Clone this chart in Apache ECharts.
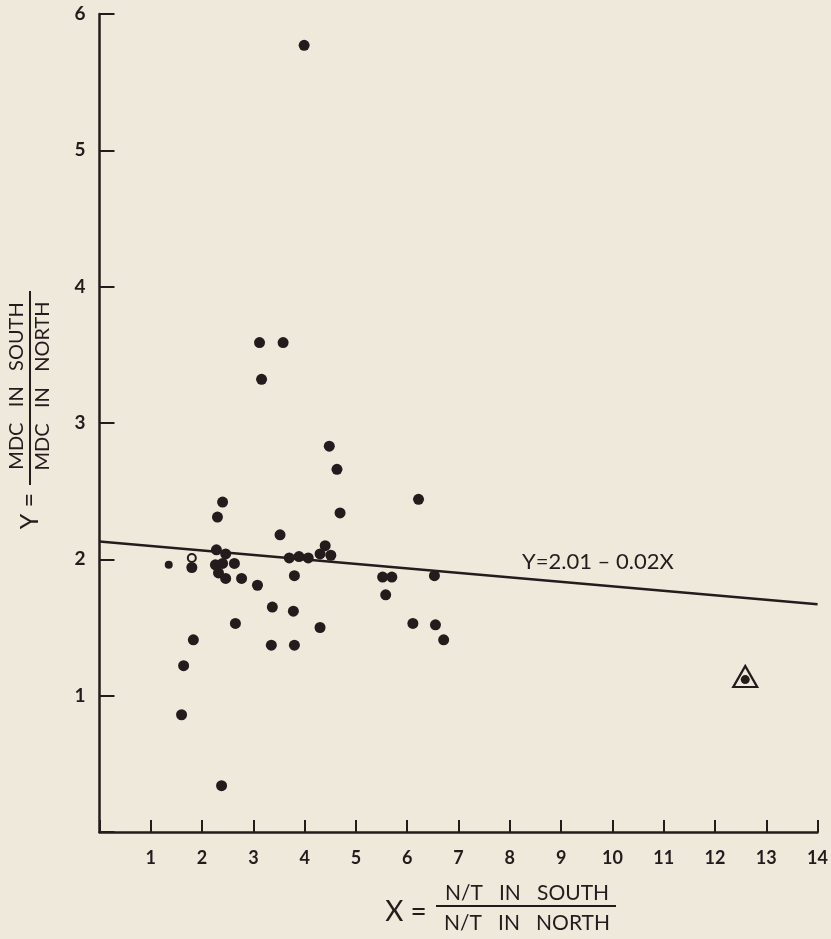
<!DOCTYPE html>
<html>
<head>
<meta charset="utf-8">
<script src="https://cdn.jsdelivr.net/npm/echarts@6/dist/echarts.min.js"></script>
<style>
html,body{margin:0;padding:0;background:#efe9dc;}
#c{width:831px;height:939px;}
</style>
</head>
<body>
<div id="c"></div>
<script>
// Data
const dotsX = [3.99,3.12,3.58,3.16,4.48,4.63,4.69,6.22,2.40,2.30,3.52,2.28,2.46,3.70,3.89,4.07,4.40,4.30,4.51,1.80,2.26,2.40,2.63,2.32,2.46,2.77,3.08,3.80,3.37,3.78,2.65,1.83,3.35,3.80,5.52,5.70,5.58,6.53,4.30,6.11,6.55,6.71,1.64,1.60,2.38];
const dotsY = [5.77,3.59,3.59,3.32,2.83,2.66,2.34,2.44,2.42,2.31,2.18,2.07,2.04,2.01,2.02,2.01,2.10,2.04,2.03,1.94,1.96,1.97,1.97,1.90,1.86,1.86,1.81,1.88,1.65,1.62,1.53,1.41,1.37,1.37,1.87,1.87,1.74,1.88,1.50,1.53,1.52,1.41,1.22,0.86,0.34];
const smallDotX = [1.35];
const smallDotY = [1.96];
const openDotX = [1.80];
const openDotY = [2.01];
const specialX = [12.59];
const specialY = [1.14];
const fitLineX = [0, 14];
const fitLineY = [2.13, 1.67];
const xTicks = [1,2,3,4,5,6,7,8,9,10,11,12,13,14];
const yTicks = [1,2,3,4,5,6];
const fitLabel = 'Y=2.01 – 0.02X';

const ink = '#241b1d';
const FONT = 'Lato, "Open Sans", sans-serif';
const pairs = (xs, ys) => xs.map((x, i) => [x, ys[i]]);

const chart = echarts.init(document.getElementById('c'), null, {renderer: 'canvas'});
chart.setOption({
  backgroundColor: '#efe9dc',
  animation: false,
  grid: {left: 99.5, right: 10.5, top: 14, bottom: 107, containLabel: false},
  xAxis: {
    type: 'value', min: 0, max: 14, interval: 1,
    splitLine: {show: false},
    axisLine: {show: true, onZero: false, lineStyle: {color: ink, width: 2.5}},
    axisTick: {show: true, inside: true, length: 12, lineStyle: {color: ink, width: 2}},
    axisLabel: {
      color: ink, fontSize: 18, fontWeight: 'bold', fontFamily: FONT, margin: 17,
      formatter: v => xTicks.indexOf(v) >= 0 ? String(v) : ''
    }
  },
  yAxis: {
    type: 'value', min: 0, max: 6, interval: 1,
    splitLine: {show: false},
    axisLine: {show: true, onZero: false, lineStyle: {color: ink, width: 2.5}},
    axisTick: {show: true, inside: true, length: 15, lineStyle: {color: ink, width: 2}},
    axisLabel: {
      color: ink, fontSize: 19, fontWeight: 'bold', fontFamily: FONT, margin: 14,
      formatter: v => yTicks.indexOf(v) >= 0 ? String(v) : ''
    }
  },
  series: [
    {
      type: 'line', data: pairs(fitLineX, fitLineY), symbol: 'none',
      lineStyle: {color: ink, width: 2.5}, z: 2
    },
    {
      type: 'scatter', data: pairs(dotsX, dotsY), symbolSize: 11,
      itemStyle: {color: ink, opacity: 1}, z: 3
    },
    {
      type: 'scatter', data: pairs(smallDotX, smallDotY), symbolSize: 8,
      itemStyle: {color: ink, opacity: 1}, z: 3
    },
    {
      type: 'scatter', data: pairs(openDotX, openDotY), symbolSize: 8,
      itemStyle: {color: '#efe9dc', borderColor: ink, borderWidth: 2, opacity: 1}, z: 4
    },
    {
      type: 'scatter', data: pairs(specialX, specialY), symbol: 'triangle', symbolSize: [24, 21],
      itemStyle: {color: 'rgba(0,0,0,0)', borderColor: ink, borderWidth: 2.2, opacity: 1}, z: 3
    },
    {
      type: 'scatter', data: pairs(specialX, specialY), symbolSize: 9, symbolOffset: [0, 3],
      itemStyle: {color: ink, opacity: 1}, z: 4
    }
  ],
  graphic: [
    {
      type: 'group', x: 30, y: 410, rotation: Math.PI / 2,
      children: [
        {type: 'text', x: -101, y: 0, style: {text: 'Y =', font: '25px ' + FONT, fill: ink, align: 'center', verticalAlign: 'middle'}},
        {type: 'text', x: 24, y: -13, style: {text: 'MDC   IN   SOUTH', font: '20px ' + FONT, fill: ink, align: 'center', verticalAlign: 'middle'}},
        {type: 'line', shape: {x1: -75, y1: 0, x2: 119, y2: 0}, style: {stroke: ink, lineWidth: 2}},
        {type: 'text', x: 24, y: 13, style: {text: 'MDC   IN   NORTH', font: '20px ' + FONT, fill: ink, align: 'center', verticalAlign: 'middle'}}
      ]
    },
    {
      type: 'group', x: 0, y: 0,
      children: [
        {type: 'text', x: 406, y: 912, style: {text: 'X =', font: '28px ' + FONT, fill: ink, align: 'center', verticalAlign: 'middle'}},
        {type: 'text', x: 527, y: 893, style: {text: 'N/T   IN   SOUTH', font: '21px ' + FONT, fill: ink, align: 'center', verticalAlign: 'middle'}},
        {type: 'line', shape: {x1: 436, y1: 906, x2: 616, y2: 906}, style: {stroke: ink, lineWidth: 2}},
        {type: 'text', x: 527, y: 923, style: {text: 'N/T   IN   NORTH', font: '21px ' + FONT, fill: ink, align: 'center', verticalAlign: 'middle'}}
      ]
    },
    {
      type: 'text', x: 522, y: 562,
      style: {text: fitLabel, font: '22px ' + FONT, fill: ink, align: 'left', verticalAlign: 'middle'}
    }
  ]
});
</script>
</body>
</html>
